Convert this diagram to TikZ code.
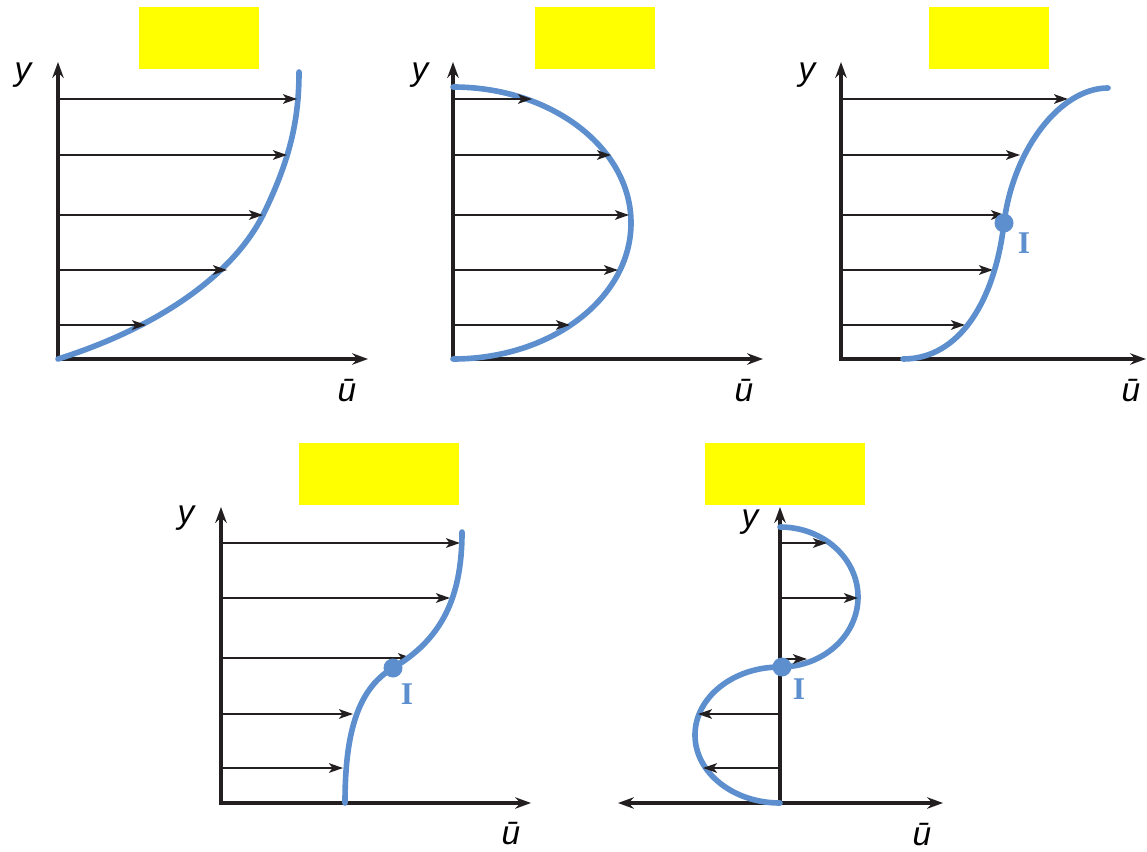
\documentclass[tikz,border=0pt]{standalone}
\usepackage{fontspec}
\setmainfont{Liberation Sans}
\newfontfamily\markfont{Liberation Serif}
\usetikzlibrary{arrows.meta, positioning}
\definecolor{profileblue}{RGB}{93,143,206}
\definecolor{axisblack}{RGB}{35,31,32}
\definecolor{boxyellow}{RGB}{255,255,0}

\begin{document}
\begin{tikzpicture}[
        x=0.02cm, y=-0.02cm,
        font=\fontsize{19}{22}\selectfont\itshape,
        axis/.style={line width=2.3pt, draw=axisblack},
        axes/.style={axis, {Stealth[length=9pt, width=6.5pt]}-{Stealth[length=9pt, width=6.5pt]}},
        yaxis/.style={axis, -{Stealth[length=9pt, width=6.5pt]}},
        vel/.style={line width=1pt, draw=axisblack, -{Stealth[length=8pt, width=5.5pt, inset=2pt]}},
        profile/.style={line width=3.2pt, draw=profileblue, line cap=round},
        infl/.style={circle, fill=profileblue, minimum size=0.38cm, inner sep=0pt},
        infllabel/.style={text=profileblue, font=\markfont\bfseries\fontsize{18}{21}\selectfont},
        titlebox/.style={fill=boxyellow, minimum width=2.4cm, minimum height=1.24cm, inner sep=0pt},
        widebox/.style={titlebox, minimum width=3.2cm}
    ]
        \useasboundingbox (0,0) rectangle (1147,852);

        % top row
        \node (title1) [titlebox] at (199,38) {};
        \node (title2) [titlebox] at (595,38) {};
        \node (title3) [titlebox] at (989,38) {};

        \coordinate (o1) at (58,359);
        \coordinate (ytip1) at (58,62);
        \coordinate (xtip1) at (368,359);
        \draw [axes] (ytip1) |- (xtip1);
        \node (ylab1) at (23,75) {y};
        \node (ulab1) at (347,391) {ū};
        \draw [profile] (o1) .. controls (150,330) and (230,280) .. (263,215)
            .. controls (290,160) and (299,120) .. (299,72);
        \foreach \yy/\xx [count=\i] in {99/297, 155/287, 215/263, 270/227, 325/146} {
            \coordinate (v1s\i) at (58,\yy);
            \coordinate (v1e\i) at (\xx,\yy);
            \draw [vel] (v1s\i) -- (v1e\i);
        }

        \coordinate (o2) at (453,359);
        \coordinate (ytip2) at (453,62);
        \coordinate (xtip2) at (763,359);
        \draw [axes] (ytip2) |- (xtip2);
        \node (ylab2) at (420,75) {y};
        \node (ulab2) at (744,391) {ū};
        \coordinate (top2) at (453,87);
        \draw [profile] (top2) arc (-90:90:178 and 136);
        \foreach \yy/\xx [count=\i] in {99/532, 155/611, 215/629, 270/618, 325/570} {
            \coordinate (v2s\i) at (453,\yy);
            \coordinate (v2e\i) at (\xx,\yy);
            \draw [vel] (v2s\i) -- (v2e\i);
        }

        \coordinate (o3) at (841,359);
        \coordinate (ytip3) at (841,62);
        \coordinate (xtip3) at (1146,359);
        \draw [axes] (ytip3) |- (xtip3);
        \node (ylab3) at (807,75) {y};
        \node (ulab3) at (1131,391) {ū};
        \coordinate (foot3) at (903,359);
        \coordinate (head3) at (1108,88);
        \foreach \yy/\xx [count=\i] in {99/1068, 155/1020, 215/1005, 270/993, 325/965} {
            \coordinate (v3s\i) at (841,\yy);
            \coordinate (v3e\i) at (\xx,\yy);
            \draw [vel] (v3s\i) -- (v3e\i);
        }
        \coordinate (bend3) at (1004,223);
        \draw [profile] (foot3) .. controls (960,359) and (995,300) .. (bend3)
            .. controls (1013,150) and (1060,88) .. (head3);
        \node (dot3) [infl] at (bend3) {};
        \node (mark3) [infllabel] at (1024,243) {I};

        % bottom row
        \node (title4) [widebox] at (379,474) {};
        \node (title5) [widebox] at (785,474) {};

        \coordinate (o4) at (221,803);
        \coordinate (ytip4) at (221,507);
        \coordinate (xtip4) at (531,803);
        \draw [axes] (ytip4) |- (xtip4);
        \node (ylab4) at (186,518) {y};
        \node (ulab4) at (511,834) {ū};
        \coordinate (foot4) at (345,803);
        \coordinate (head4) at (462,532);
        \foreach \yy/\xx [count=\i] in {543/460, 598/450, 658/412, 714/353, 768/343} {
            \coordinate (v4s\i) at (221,\yy);
            \coordinate (v4e\i) at (\xx,\yy);
            \draw [vel] (v4s\i) -- (v4e\i);
        }
        \coordinate (bend4) at (393,668);
        \draw [profile] (foot4) .. controls (345,740) and (355,690) .. (bend4)
            .. controls (440,640) and (462,600) .. (head4);
        \node (dot4) [infl] at (bend4) {};
        \node (mark4) [infllabel] at (407,694) {I};

        \coordinate (o5) at (780,803);
        \coordinate (ytip5) at (780,507);
        \coordinate (xleft5) at (618,803);
        \coordinate (xtip5) at (943,803);
        \draw [axes] (xleft5) -- (xtip5);
        \draw [yaxis] (o5) -- (ytip5);
        \node (ylab5) at (750,522) {y};
        \node (ulab5) at (922,835) {ū};
        \coordinate (top5) at (780,527);
        \draw [profile] (top5) arc (-90:90:78 and 70) arc (-90:-270:85 and 68);
        \foreach \yy/\xx [count=\i] in {543/827, 598/858, 659/807, 714/698, 768/703} {
            \coordinate (v5s\i) at (780,\yy);
            \coordinate (v5e\i) at (\xx,\yy);
            \draw [vel] (v5s\i) -- (v5e\i);
        }
        \node (dot5) [infl] at (782,667) {};
        \node (mark5) [infllabel] at (799,689) {I};
    \end{tikzpicture}
\end{document}
